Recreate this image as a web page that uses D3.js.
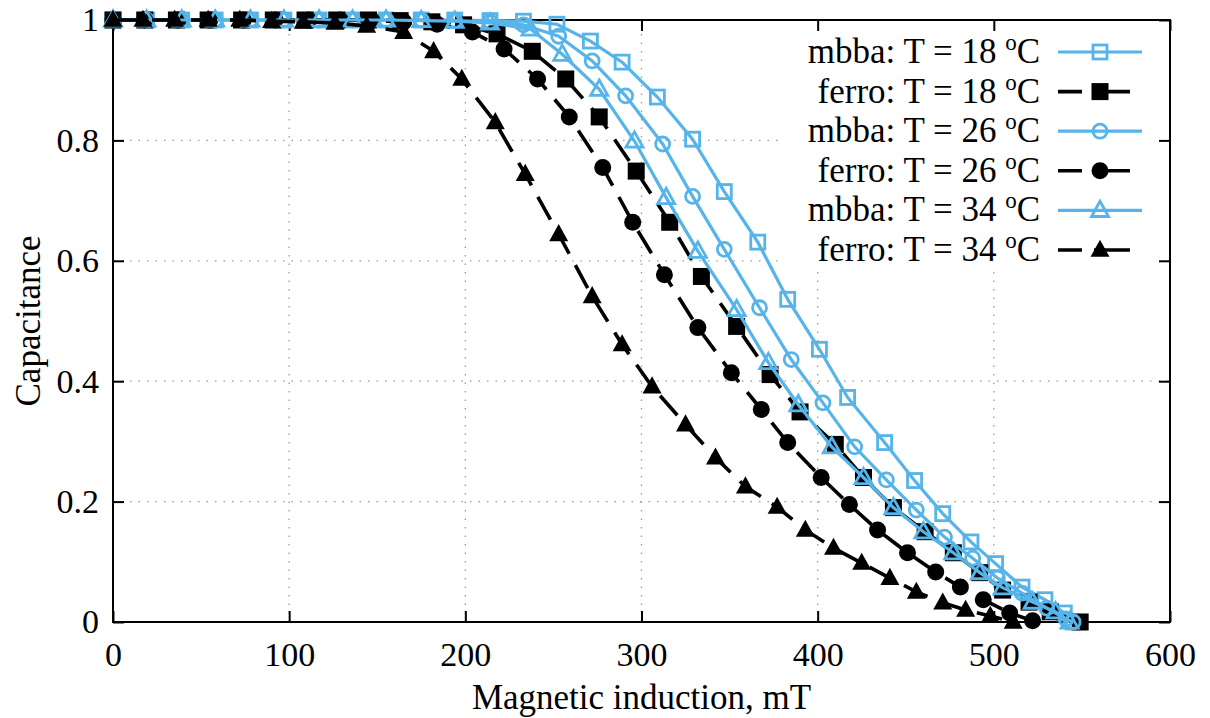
<!DOCTYPE html>
<html>
<head>
<meta charset="utf-8">
<script src="https://cdn.jsdelivr.net/npm/d3@7.9.0/dist/d3.min.js"></script>
<style>
  body { margin: 0; background: #fff; }
  svg text { font-family: "Liberation Serif", "DejaVu Serif", serif; fill: #000; }
</style>
</head>
<body>
<svg id="chart" width="1210" height="718"></svg>
<script>
// magnetic induction (mT) and normalised capacitance
const mbba18X = [0,19,39,58,78,97,117,136,155,175,194,214,233,252,271,289,309,329,347,366,383,401,417,438,455,471,487,501,516,529,540,545];
const mbba18Y = [1,1,1,1,1,1,1,1,1,1,1,0.999,0.998,0.993,0.965,0.930,0.872,0.802,0.715,0.631,0.536,0.453,0.373,0.298,0.235,0.180,0.133,0.097,0.058,0.037,0.015,0];

const ferro18X = [0,18,36,54,73,91,109,127,145,163,181,199,218,238,257,276,297,316,334,354,373,390,410,426,443,461,477,492,505,520,532,549];
const ferro18Y = [1,1,1,1,1,1,1,1,1,0.999,0.997,0.992,0.977,0.948,0.902,0.839,0.749,0.664,0.574,0.491,0.411,0.349,0.295,0.240,0.190,0.150,0.115,0.082,0.053,0.033,0.017,0];

const mbba26X = [0,19,39,58,78,97,117,136,155,175,194,214,233,253,272,291,312,329,347,367,385,403,421,439,456,472,488,502,516,530,541,545];
const mbba26Y = [1,1,1,1,1,1,1,1,1,1,0.999,0.997,0.992,0.973,0.932,0.874,0.794,0.707,0.619,0.522,0.436,0.364,0.291,0.236,0.186,0.141,0.106,0.073,0.048,0.023,0.005,0];

const ferro26X = [0,18,37,55,74,92,111,129,147,165,184,204,222,241,259,278,295,313,332,351,368,383,402,418,434,451,467,481,494,509,522];
const ferro26Y = [1,1,1,1,1,1,1,1,0.999,0.997,0.993,0.980,0.952,0.902,0.839,0.755,0.664,0.577,0.489,0.414,0.353,0.298,0.240,0.195,0.153,0.115,0.083,0.058,0.037,0.015,0.002];

const mbba34X = [0,19,39,58,78,97,117,136,155,175,194,214,237,255,276,296,314,332,354,372,389,408,426,443,460,477,492,505,522,535,543];
const mbba34Y = [1,1,1,1,1,1,1,1,1,0.999,0.998,0.995,0.985,0.943,0.885,0.799,0.705,0.616,0.519,0.431,0.361,0.291,0.240,0.190,0.150,0.115,0.082,0.057,0.033,0.017,0];

const ferro34X = [0,17,35,54,72,90,108,126,144,165,182,198,217,234,253,272,289,306,325,342,359,377,393,409,425,441,456,471,484,498,511];
const ferro34Y = [1,1,1,1,1,0.998,0.997,0.995,0.990,0.980,0.948,0.902,0.830,0.744,0.644,0.541,0.461,0.391,0.328,0.273,0.225,0.191,0.153,0.123,0.098,0.073,0.050,0.032,0.020,0.010,0];

const xTicks = [0,100,200,300,400,500,600];
const yTicks = [0,0.2,0.4,0.6,0.8,1];
const yTickLabels = ['0','0.2','0.4','0.6','0.8','1'];

const seriesNames = ['mbba', 'ferro', 'mbba', 'ferro', 'mbba', 'ferro'];
const seriesTemps = ['18', '18', '26', '26', '34', '34'];

const blue = '#56b4e9';
const dashed = '26,13';
const series = [
  { name: seriesNames[0], temp: seriesTemps[0], xs: mbba18X,  ys: mbba18Y,  color: blue,   dash: null,   shape: 'square',   open: true },
  { name: seriesNames[1], temp: seriesTemps[1], xs: ferro18X, ys: ferro18Y, color: '#000', dash: dashed, shape: 'square',   open: false },
  { name: seriesNames[2], temp: seriesTemps[2], xs: mbba26X,  ys: mbba26Y,  color: blue,   dash: null,   shape: 'circle',   open: true },
  { name: seriesNames[3], temp: seriesTemps[3], xs: ferro26X, ys: ferro26Y, color: '#000', dash: dashed, shape: 'circle',   open: false },
  { name: seriesNames[4], temp: seriesTemps[4], xs: mbba34X,  ys: mbba34Y,  color: blue,   dash: null,   shape: 'triangle', open: true },
  { name: seriesNames[5], temp: seriesTemps[5], xs: ferro34X, ys: ferro34Y, color: '#000', dash: dashed, shape: 'triangle', open: false },
];

const margin = { left: 113, right: 40, top: 20, bottom: 96 };
const W = 1210, H = 718;
const svg = d3.select('#chart');

const x = d3.scaleLinear().domain([0, 600]).range([margin.left, W - margin.right]);
const y = d3.scaleLinear().domain([0, 1]).range([H - margin.bottom, margin.top]);

// grid (dotted), interior only
const grid = svg.append('g').attr('stroke', '#999').attr('stroke-width', 1.3).attr('stroke-dasharray', '1.5,7');
xTicks.slice(1, -1).forEach(t => {
  grid.append('line').attr('x1', x(t)).attr('x2', x(t)).attr('y1', y(0)).attr('y2', y(1));
});
yTicks.slice(1, -1).forEach(t => {
  grid.append('line').attr('x1', x(0)).attr('x2', x(600)).attr('y1', y(t)).attr('y2', y(t));
});

// opaque key box
const keyBox = { x0: 782, x1: 1168, y0: 22, y1: 268 };
svg.append('rect')
  .attr('x', keyBox.x0).attr('y', keyBox.y0)
  .attr('width', keyBox.x1 - keyBox.x0).attr('height', keyBox.y1 - keyBox.y0)
  .attr('fill', '#fff');

// axes: ticks point inward, labels outside
const fontSize = 34;
const axB = svg.append('g').attr('transform', `translate(0,${y(0)})`)
  .call(d3.axisBottom(x).tickValues(xTicks).tickSizeInner(-11).tickSizeOuter(0).tickPadding(20));
const axL = svg.append('g').attr('transform', `translate(${x(0)},0)`)
  .call(d3.axisLeft(y).tickValues(yTicks).tickFormat((d, i) => yTickLabels[i]).tickSizeInner(-11).tickSizeOuter(0).tickPadding(14));
const axT = svg.append('g').attr('transform', `translate(0,${y(1)})`)
  .call(d3.axisTop(x).tickValues(xTicks).tickSizeInner(-11).tickSizeOuter(0).tickFormat(''));
const axR = svg.append('g').attr('transform', `translate(${x(600)},0)`)
  .call(d3.axisRight(y).tickValues(yTicks).tickSizeInner(-11).tickSizeOuter(0).tickFormat(''));

[axB, axL, axT, axR].forEach(a => {
  a.select('.domain').remove();
  a.selectAll('line').attr('stroke', '#000').attr('stroke-width', 2);
  a.selectAll('text').attr('font-family', '"Liberation Serif", serif').attr('font-size', fontSize).attr('fill', '#000');
});

// frame
svg.append('rect')
  .attr('x', x(0)).attr('y', y(1))
  .attr('width', x(600) - x(0)).attr('height', y(0) - y(1))
  .attr('fill', 'none').attr('stroke', '#000').attr('stroke-width', 2);

// markers
function marker(g, shape, open, color, cx, cy) {
  const sw = 2.8;
  if (shape === 'square') {
    const s = open ? 14 : 17;
    g.append('rect').attr('x', cx - s / 2).attr('y', cy - s / 2).attr('width', s).attr('height', s)
      .attr('fill', open ? 'none' : color).attr('stroke', color).attr('stroke-width', open ? sw : 0);
  } else if (shape === 'circle') {
    const r = open ? 7 : 8.5;
    g.append('circle').attr('cx', cx).attr('cy', cy).attr('r', r)
      .attr('fill', open ? 'none' : color).attr('stroke', color).attr('stroke-width', open ? sw : 0);
  } else {
    const s = open ? 17 : 19;
    const h = s * 0.9;
    const pts = [[cx, cy - h * 0.6], [cx + s / 2, cy + h * 0.4], [cx - s / 2, cy + h * 0.4]];
    g.append('path').attr('d', 'M' + pts.map(p => p.join(',')).join('L') + 'Z')
      .attr('fill', open ? 'none' : color).attr('stroke', color).attr('stroke-width', open ? sw : 0);
  }
}

const line = d3.line().x(d => x(d[0])).y(d => y(d[1]));

series.forEach(s => {
  const pts = s.xs.map((v, i) => [v, s.ys[i]]);
  const g = svg.append('g');
  g.append('path').datum(pts).attr('d', line)
    .attr('fill', 'none').attr('stroke', s.color)
    .attr('stroke-width', s.dash ? 3.6 : 3.2)
    .attr('stroke-dasharray', s.dash);
  pts.forEach(p => marker(g, s.shape, s.open, s.color, x(p[0]), y(p[1])));
});

// key
const keyTextRight = 1040, keyLineX0 = 1058, keyLineX1 = 1142, keyRow0 = 52, keyRowStep = 39.6;
series.forEach((s, i) => {
  const cy = keyRow0 + i * keyRowStep;
  const t = svg.append('text').attr('x', keyTextRight).attr('y', cy + 11)
    .attr('text-anchor', 'end').attr('font-size', fontSize + 1);
  t.append('tspan').text(`${s.name}: T = ${s.temp} `);
  t.append('tspan').attr('font-size', 23).attr('dy', -13).text('o');
  t.append('tspan').attr('dy', 13).text('C');
  svg.append('line').attr('x1', keyLineX0).attr('x2', s.dash ? 1130 : keyLineX1).attr('y1', cy).attr('y2', cy)
    .attr('stroke', s.color).attr('stroke-width', s.dash ? 3.6 : 3.2).attr('stroke-dasharray', s.dash ? '24,12,40,20' : null);
  marker(svg, s.shape, s.open, s.color, (keyLineX0 + keyLineX1) / 2, cy);
});

// axis titles
svg.append('text').attr('x', (x(0) + x(600)) / 2).attr('y', 709)
  .attr('text-anchor', 'middle').attr('font-size', fontSize + 1).text('Magnetic induction, mT');
svg.append('text').attr('transform', `translate(40,${(y(0) + y(1)) / 2}) rotate(-90)`)
  .attr('text-anchor', 'middle').attr('font-size', fontSize + 1).text('Capacitance');
</script>
</body>
</html>
